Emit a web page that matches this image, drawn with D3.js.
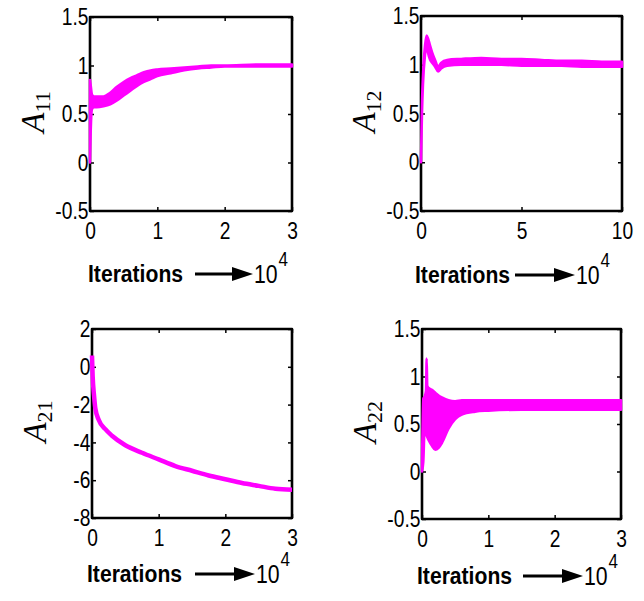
<!DOCTYPE html>
<html>
<head>
<meta charset="utf-8">
<script src="https://cdn.jsdelivr.net/npm/d3@7"></script>
<style>
body { margin: 0; background: #fff; }
</style>
</head>
<body>
<svg id="chart" width="644" height="601"></svg>
<script>
// values (x in units of 10^4 iterations)
var a11X  = [0, 0.01, 0.03, 0.06, 0.1, 0.2, 0.3, 0.4, 0.5, 0.6, 0.7, 0.8, 0.9, 1.0, 1.2, 1.4, 1.6, 1.8, 2.0, 2.5, 3.0];
var a11Hi = [0.85, 0.8, 0.7, 0.68, 0.68, 0.68, 0.72, 0.78, 0.83, 0.87, 0.9, 0.93, 0.95, 0.96, 0.97, 0.98, 0.99, 1.0, 1.0, 1.01, 1.01];
var a11Lo = [0.0, 0.3, 0.55, 0.57, 0.57, 0.58, 0.6, 0.64, 0.69, 0.74, 0.79, 0.83, 0.86, 0.89, 0.92, 0.95, 0.97, 0.98, 0.99, 0.99, 0.99];

var a12X  = [0, 0.05, 0.1, 0.2, 0.28, 0.35, 0.45, 0.55, 0.7, 0.85, 1.0, 1.3, 2, 3, 4, 5, 6, 7, 8, 9, 10];
var a12Hi = [0.02, 0.62, 0.9, 1.2, 1.3, 1.27, 1.2, 1.13, 1.05, 0.98, 1.02, 1.05, 1.06, 1.07, 1.06, 1.06, 1.05, 1.04, 1.04, 1.03, 1.03];
var a12Lo = [0.0, 0.5, 0.8, 1.1, 1.2, 1.12, 1.05, 1.02, 0.98, 0.93, 0.96, 0.99, 1.0, 1.0, 1.0, 0.99, 0.99, 0.99, 0.98, 0.98, 0.98];

var a21X = [0, 0.01, 0.03, 0.05, 0.1, 0.2, 0.3, 0.5, 0.75, 1, 1.25, 1.5, 1.75, 2, 2.25, 2.5, 2.75, 3];
var a21Y = [0.6, -0.5, -1.5, -2.2, -2.8, -3.3, -3.65, -4.15, -4.55, -4.9, -5.25, -5.5, -5.75, -5.95, -6.15, -6.3, -6.45, -6.5];

var a22X  = [0, 0.02, 0.04, 0.06, 0.07, 0.08, 0.1, 0.15, 0.2, 0.25, 0.3, 0.4, 0.5, 0.6, 0.8, 1.0, 1.5, 2, 2.5, 3];
var a22Hi = [0.1, 0.77, 0.79, 0.85, 1.19, 0.9, 0.88, 0.86, 0.83, 0.8, 0.78, 0.75, 0.74, 0.75, 0.75, 0.75, 0.75, 0.75, 0.75, 0.75];
var a22Lo = [0.0, 0.1, 0.45, 0.42, 0.38, 0.36, 0.33, 0.27, 0.23, 0.25, 0.3, 0.45, 0.55, 0.6, 0.63, 0.64, 0.65, 0.65, 0.65, 0.65];

var xTicks3  = [0, 1, 2, 3];
var xTicks10 = [0, 5, 10];
var yTicksA  = [-0.5, 0, 0.5, 1, 1.5];
var yTicksB  = [-8, -6, -4, -2, 0, 2];

var magenta = '#ff00ff';

var panels = [
	{ box: [90, 17, 292, 211], xDom: [0, 3], yDom: [-0.5, 1.5], xt: xTicks3, yt: yTicksA, sub: '11',
	  x: a11X, hi: a11Hi, lo: a11Lo, iter: -2, arrow: [105, 163], base: 282 },
	{ box: [421, 16, 622, 211], xDom: [0, 10], yDom: [-0.5, 1.5], xt: xTicks10, yt: yTicksA, sub: '12',
	  x: a12X, hi: a12Hi, lo: a12Lo, iter: -6, arrow: [94, 154], base: 283 },
	{ box: [92, 329, 292, 518], xDom: [0, 3], yDom: [-8, 2], xt: xTicks3, yt: yTicksB, sub: '21',
	  x: a21X, y: a21Y, iter: -5, arrow: [103, 163], base: 582 },
	{ box: [422, 329, 621, 519], xDom: [0, 3], yDom: [-0.5, 1.5], xt: xTicks3, yt: yTicksA, sub: '22',
	  x: a22X, hi: a22Hi, lo: a22Lo, iter: -5, arrow: [101, 161], base: 584 }
];

var svg = d3.select('#chart');

panels.forEach(function(p) {
	var x0 = p.box[0], y0 = p.box[1], x1 = p.box[2], y1 = p.box[3];
	var x = d3.scaleLinear().domain(p.xDom).range([x0, x1]);
	var y = d3.scaleLinear().domain(p.yDom).range([y1, y0]);
	var g = svg.append('g');

	// inward ticks on all four sides, labels only bottom/left
	var fmt = function(d) { return String(d); };
	var axes = [
		[d3.axisBottom(x).tickValues(p.xt).tickSize(-4).tickPadding(11).tickFormat(fmt), 'translate(0,' + y1 + ')'],
		[d3.axisTop(x).tickValues(p.xt).tickSize(-4).tickFormat(''), 'translate(0,' + y0 + ')'],
		[d3.axisLeft(y).tickValues(p.yt).tickSize(-4).tickPadding(2).tickFormat(fmt), 'translate(' + x0 + ',0)'],
		[d3.axisRight(y).tickValues(p.yt).tickSize(-4).tickFormat(''), 'translate(' + x1 + ',0)']
	];
	axes.forEach(function(a) {
		var ax = g.append('g').attr('transform', a[1]).call(a[0]);
		ax.select('.domain').remove();
		ax.selectAll('line').attr('stroke', '#000').attr('stroke-width', 1.5);
		ax.selectAll('text')
			.attr('fill', '#000')
			.attr('font-family', 'Liberation Sans, Arial, sans-serif')
			.attr('font-size', 24)
			.attr('transform', 'scale(0.8,1)');
	});

	g.append('rect')
		.attr('x', x0).attr('y', y0)
		.attr('width', x1 - x0).attr('height', y1 - y0)
		.attr('fill', 'none')
		.attr('stroke', '#000')
		.attr('stroke-width', 2.6)
		.attr('stroke-linejoin', 'round');

	// data
	if (p.y) {
		var line = d3.line().x(function(d, i) { return x(p.x[i]); }).y(function(d) { return y(d); })
			.curve(d3.curveMonotoneX);
		g.append('path')
			.attr('d', line(p.y))
			.attr('fill', 'none')
			.attr('stroke', magenta)
			.attr('stroke-width', 4.5);
	} else {
		var area = d3.area()
			.x(function(d, i) { return x(p.x[i]); })
			.y0(function(d, i) { return y(p.lo[i]); })
			.y1(function(d) { return y(d); })
			.curve(d3.curveMonotoneX);
		g.append('path')
			.attr('d', area(p.hi))
			.attr('fill', magenta)
			.attr('stroke', magenta)
			.attr('stroke-width', 2.5)
			.attr('stroke-linejoin', 'round');
	}

	// y label A_ij
	var cy = (y0 + y1) / 2 - 2;
	var lab = g.append('text')
		.attr('transform', 'translate(' + (x0 - 46) + ',' + cy + ') rotate(-90)')
		.attr('text-anchor', 'middle')
		.attr('font-family', 'Liberation Serif, Times New Roman, serif')
		.attr('fill', '#000');
	lab.append('tspan').attr('font-style', 'italic').attr('font-size', 33).text('A');
	lab.append('tspan').attr('font-size', 22).attr('dy', 6).text(p.sub);

	// x label: Iterations ----> 10^4
	g.append('text')
		.attr('transform', 'translate(' + (x0 + p.iter) + ',' + p.base + ') scale(0.88,1)')
		.attr('font-family', 'Liberation Sans, Arial, sans-serif')
		.attr('font-weight', 'bold')
		.attr('font-size', 24)
		.attr('fill', '#000')
		.text('Iterations');

	var ay = p.base - 8;
	var ax0 = x0 + p.arrow[0], ax1 = x0 + p.arrow[1];
	g.append('line')
		.attr('x1', ax0).attr('y1', ay).attr('x2', ax1 - 16).attr('y2', ay)
		.attr('stroke', '#000').attr('stroke-width', 3);
	g.append('path')
		.attr('d', d3.line()([[ax1, ay], [ax1 - 21, ay - 7], [ax1 - 21, ay + 7]]) + 'Z')
		.attr('fill', '#000');

	var ten = g.append('text')
		.attr('transform', 'translate(' + (ax1 + 1) + ',' + (p.base + 1) + ') scale(0.85,1)')
		.attr('font-family', 'Liberation Sans, Arial, sans-serif')
		.attr('font-size', 25)
		.attr('fill', '#000');
	ten.append('tspan').text('10');
	ten.append('tspan').attr('font-size', 20).attr('dy', -17).attr('dx', 1).text('4');
});
</script>
</body>
</html>
